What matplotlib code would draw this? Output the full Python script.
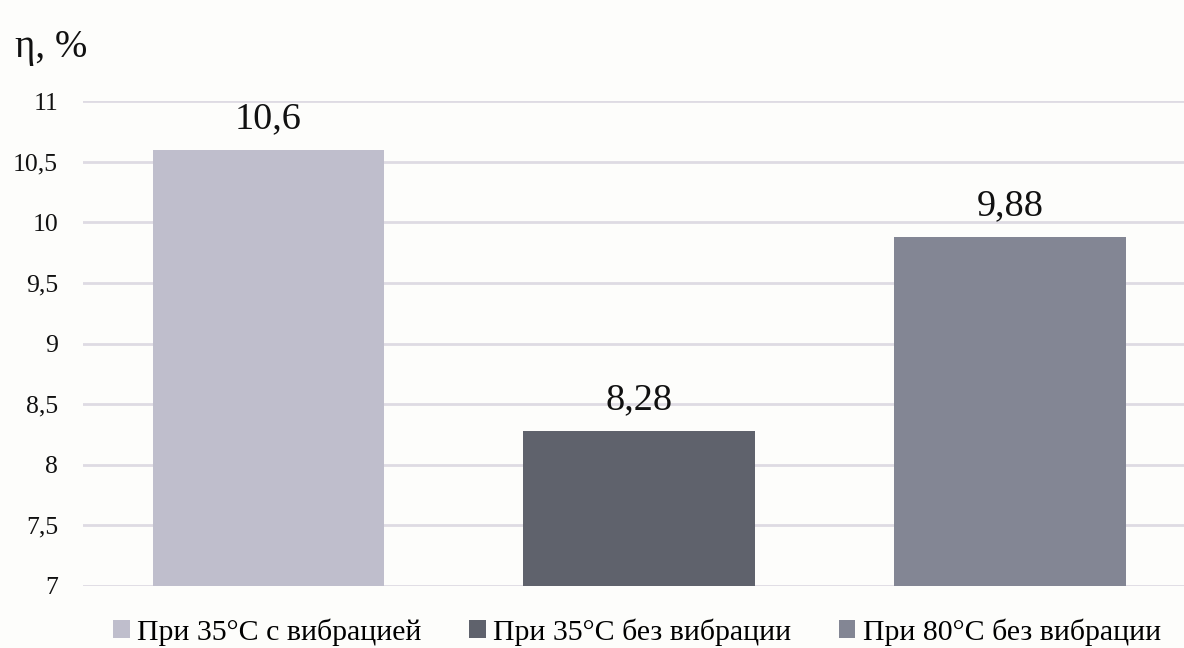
import matplotlib
matplotlib.use("Agg")
import matplotlib.pyplot as plt
from matplotlib.patches import Patch

# Efficiency values for the three regimes
categories = ["При 35°C с вибрацией", "При 35°C без вибрации", "При 80°C без вибрации"]
values = [10.6, 8.28, 9.88]
value_labels = ["10,6", "8,28", "9,88"]
colors = ["#bfbecc", "#5f626c", "#838694"]
yticks = [7, 7.5, 8, 8.5, 9, 9.5, 10, 10.5, 11]
ytick_labels = ["7", "7,5", "8", "8,5", "9", "9,5", "10", "10,5", "11"]

plt.rcParams["font.family"] = ["Liberation Serif", "DejaVu Serif"]

W, H = 1184, 648
fig = plt.figure(figsize=(W / 100, H / 100), dpi=100)
bg = "#fdfdfb"
fig.patch.set_facecolor(bg)

ax = fig.add_axes([83 / W, 1 - 586 / H, 1 - 83 / W, (586 - 101) / H])
ax.set_facecolor(bg)

x = list(range(len(values)))
ax.bar(x, [v - 7 for v in values], bottom=7, width=0.625, color=colors, zorder=3)

ax.set_ylim(7, 11)
ax.set_xlim(-0.5, 2.47)
ax.set_yticks(yticks)
ax.set_yticklabels(ytick_labels, fontsize=18.5)
ax.set_xticks([])
ax.tick_params(axis="y", length=0, pad=18, colors="#111111")
ax.grid(axis="y", color="#dedbe3", linewidth=2, zorder=0)
for s in ax.spines.values():
    s.set_visible(False)

for xi, v, lab in zip(x, values, value_labels):
    ax.annotate(lab, (xi, v), xytext=(0, 31), textcoords="offset pixels",
                ha="center", va="center", fontsize=27.5, color="#111111")

fig.text(15 / W, 1 - 47 / H, "η, %", fontsize=28, ha="left", va="center", color="#111111")

handles = [Patch(facecolor=c, edgecolor="none") for c in colors]
fig.legend(handles, categories, loc="center", bbox_to_anchor=(637 / W, 1 - 632 / H),
           ncol=3, frameon=False, fontsize=21.5, handlelength=0.55, handleheight=0.55,
           handletextpad=0.25, columnspacing=1.6)

fig.savefig("out.png", dpi=100, facecolor=bg)
